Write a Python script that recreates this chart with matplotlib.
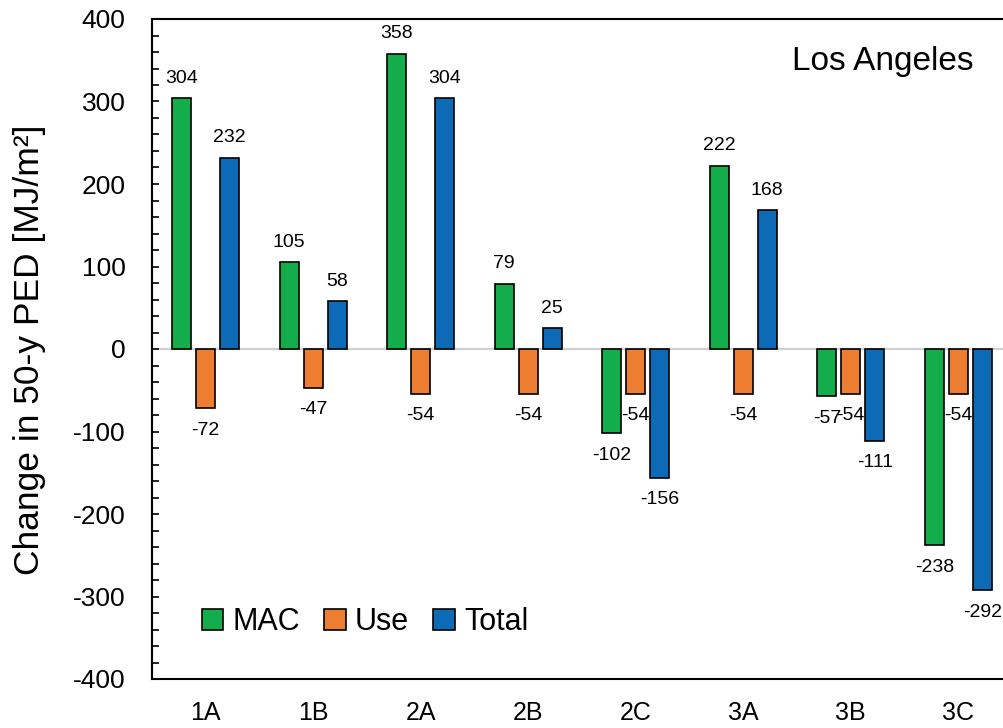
import matplotlib
matplotlib.use("Agg")
import matplotlib.pyplot as plt
from matplotlib.patches import Patch
from matplotlib.ticker import MultipleLocator
import numpy as np

plt.rcParams['font.family'] = ['Liberation Sans', 'DejaVu Sans']
plt.rcParams['axes.unicode_minus'] = False

scenarios = ["1A", "1B", "2A", "2B", "2C", "3A", "3B", "3C"]
mac = [304, 105, 358, 79, -102, 222, -57, -238]
use = [-72, -47, -54, -54, -54, -54, -54, -54]
total = [232, 58, 304, 25, -156, 168, -111, -292]
series_names = ["MAC", "Use", "Total"]
colors = ["#14AD4B", "#ED7D31", "#0C6AB6"]

W, H = 1004, 728
fig = plt.figure(figsize=(W / 100, H / 100), dpi=100)
ax = fig.add_axes([152 / W, 1 - 679 / H, (1012 - 152) / W, (679 - 19) / H])

x = np.arange(len(scenarios))
bw = 0.177
offsets = [-0.223, 0.0, 0.223]

ax.axhline(0, color="#D0D0D0", lw=1.6, zorder=1)

for vals, off, col in zip([mac, use, total], offsets, colors):
    bars = ax.bar(x + off, vals, width=bw, color=col, edgecolor="black",
                  linewidth=1.2, zorder=2)
    for b, v in zip(bars, vals):
        dy = 14.5 if v >= 0 else -16
        ax.annotate(f"{v}", (b.get_x() + b.get_width() / 2, v),
                    xytext=(0, dy), textcoords="offset points",
                    ha="center", va="center", fontsize=14)

ax.set_xlim(-0.5, len(scenarios) - 0.5)
ax.set_ylim(-400, 400)
ax.yaxis.set_major_locator(MultipleLocator(100))
ax.yaxis.set_minor_locator(MultipleLocator(20))
ax.tick_params(axis="y", which="both", direction="in", length=5, width=1.2,
               labelsize=19, pad=19)
ax.tick_params(axis="x", length=0, labelsize=18, pad=16)
ax.set_xticks(x)
ax.set_xticklabels(scenarios)
for s in ax.spines.values():
    s.set_linewidth(1.5)

ax.text((974 - 152) / 860, 0.935, "Los Angeles", transform=ax.transAxes,
        ha="right", va="center", fontsize=24)

fig.text(30 / W, 1 - 350 / H, "Change in 50-y PED [MJ/m²]", rotation=90,
         ha="center", va="center", fontsize=25.5)

handles = [Patch(facecolor=c, edgecolor="black", linewidth=1.2) for c in colors]
ax.legend(handles, series_names, loc="center", ncol=3, frameon=False,
          fontsize=22, handlelength=0.7, handleheight=0.7,
          handletextpad=0.3, columnspacing=0.8,
          bbox_to_anchor=(365 / W, 1 - 622 / H),
          bbox_transform=fig.transFigure)

fig.savefig("out.png", dpi=100)
